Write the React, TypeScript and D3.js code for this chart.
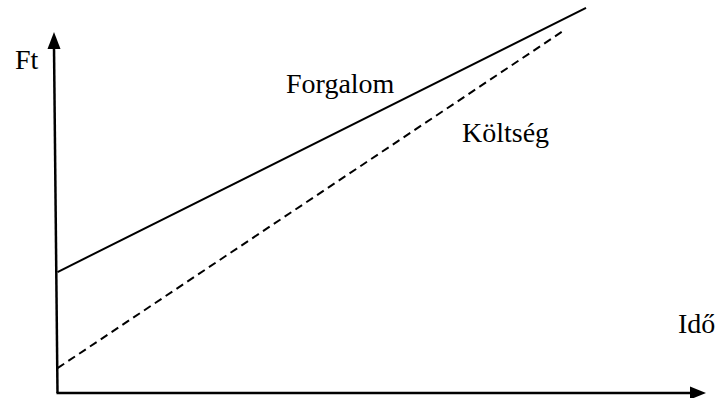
import React from "react";
import * as d3 from "d3";

// Data (arbitrary units)
const timeForgalom = [0, 81.5];
const valuesForgalom = [33.6, 107];
const timeKoltseg = [0, 78];
const valuesKoltseg = [6.9, 100.6];
const axisLabels = { y: "Ft", x: "Idő" };
const seriesLabels = ["Forgalom", "Költség"];

const W = 720;
const H = 398;

const FONT = 'Tinos, "Times New Roman", Times, "Liberation Serif", "DejaVu Serif", "Noto Serif", serif';

export default function App() {
  const x = d3.scaleLinear().domain([0, 100]).range([57.5, 706]);
  const y = d3.scaleLinear().domain([0, 100]).range([393, 33]);

  const line = d3
    .line<[number, number]>()
    .x((d) => x(d[0]))
    .y((d) => y(d[1]));

  const f = timeForgalom.map((t, i) => [t, valuesForgalom[i]] as [number, number]);
  const k = timeKoltseg.map((t, i) => [t, valuesKoltseg[i]] as [number, number]);

  const x0 = x(0);
  const y0 = y(0);
  const xEnd = x(100);
  const yEnd = y(100);

  const labels = [
    { t: axisLabels.y, x: 15, y: 69 },
    { t: axisLabels.x, x: 678, y: 333 },
    { t: seriesLabels[0], x: 286, y: 93 },
    { t: seriesLabels[1], x: 462, y: 141.5 },
  ];

  return (
    <div style={{ position: "absolute", left: 0, top: 0, width: W, height: H, fontFamily: FONT }}>
      <svg width={W} height={H} style={{ display: "block", background: "#fff" }}>
        {/* y axis (slightly tilted as in the original) */}
        <line x1={x0} y1={y0} x2={x0 - 3.5} y2={yEnd + 14} stroke="#000" strokeWidth={2.5} />
        <path
          d={`M${x0 - 3.5},${yEnd - 1} L${x0 - 3.5 - 6.5},${yEnd + 16} L${x0 - 3.5 + 6.5},${yEnd + 16} Z`}
          fill="#000"
        />
        {/* x axis */}
        <line x1={x0 - 1} y1={y0} x2={xEnd - 14} y2={y0} stroke="#000" strokeWidth={2.5} />
        <path d={`M${xEnd},${y0} L${xEnd - 16},${y0 - 6.5} L${xEnd - 16},${y0 + 6.5} Z`} fill="#000" />

        {/* series */}
        <path d={line(f) || ""} fill="none" stroke="#000" strokeWidth={2} />
        <path d={line(k) || ""} fill="none" stroke="#000" strokeWidth={2} strokeDasharray="8,5" />

        {/* labels */}
        {labels.map((l) => (
          <text key={l.t} x={l.x} y={l.y} fontFamily={FONT} fontSize={28} fill="#000">
            {l.t}
          </text>
        ))}
      </svg>
    </div>
  );
}
